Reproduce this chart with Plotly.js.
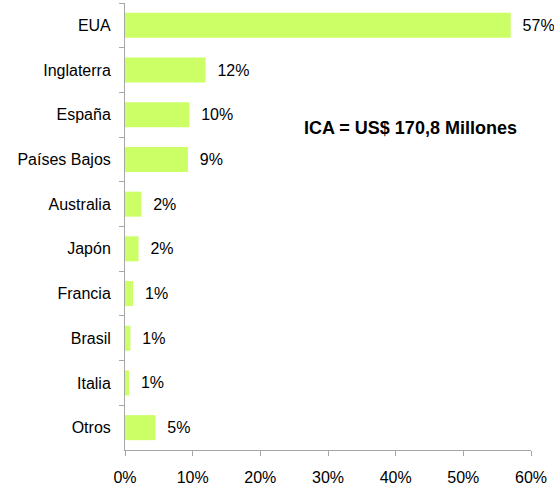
<!DOCTYPE html>
<html><head><meta charset="utf-8">
<script src="https://cdn.plot.ly/plotly-3.0.1.min.js"></script>
<style>body{margin:0;padding:0;background:#fff}#c{width:554px;height:485px}</style>
</head><body><div id="c"></div>
<script>
const categories = ["EUA","Inglaterra","España","Países Bajos","Australia","Japón","Francia","Brasil","Italia","Otros"];
const shares = [0.570, 0.119, 0.095, 0.093, 0.024, 0.020, 0.012, 0.008, 0.006, 0.045];
const labels = ["57%","12%","10%","9%","2%","2%","1%","1%","1%","5%"];
const xTicks = [0,0.1,0.2,0.3,0.4,0.5,0.6];
const xTickLabels = ["0%","10%","20%","30%","40%","50%","60%"];
const note = "ICA = US$ 170,8 Millones";

const font = "Liberation Sans, Arial, sans-serif";
Plotly.newPlot("c", [{
  type: "bar", orientation: "h",
  y: categories, x: shares,
  text: labels.map(s => "  " + s),
  textposition: "outside", cliponaxis: false, constraintext: "none",
  textfont: {family: font, size: 16, color: "#000"},
  marker: {color: "#CCFF66", line: {width: 0}},
  hoverinfo: "none"
}], {
  width: 554, height: 485,
  margin: {l: 125, r: 23, t: 3, b: 35},
  paper_bgcolor: "#fff", plot_bgcolor: "#fff",
  bargap: 0.44,
  showlegend: false,
  font: {family: font, size: 16, color: "#000"},
  xaxis: {range: [0, 0.6], tickvals: xTicks, ticktext: xTickLabels,
    showgrid: false, zeroline: false, showline: true, linecolor: "#a6a6a6", linewidth: 1,
    ticks: "outside", ticklen: 5, tickcolor: "#a6a6a6", ticklabelstandoff: 8,
    tickfont: {family: font, size: 16, color: "#000"}},
  yaxis: {autorange: "reversed", type: "category", tickson: "boundaries",
    showgrid: false, zeroline: false, showline: true, linecolor: "#a6a6a6", linewidth: 1,
    ticks: "outside", ticklen: 5, tickcolor: "#a6a6a6", ticklabelstandoff: 10,
    tickfont: {family: font, size: 16, color: "#000"}},
  annotations: [{text: "<b>" + note + "</b>", xref: "paper", yref: "paper",
    x: 0.703, y: 0.72, showarrow: false, xanchor: "center", yanchor: "middle",
    font: {family: font, size: 18, color: "#000"}}]
}, {displayModeBar: false, staticPlot: true});
</script></body></html>
